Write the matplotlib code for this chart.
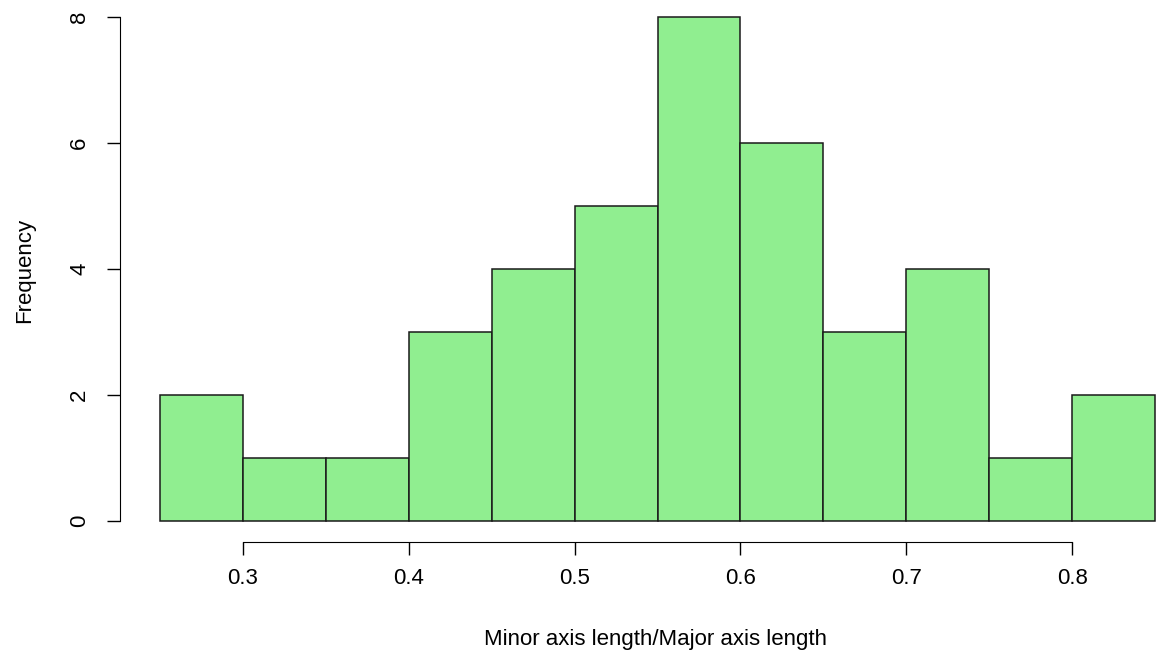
import matplotlib

matplotlib.use("Agg")
import matplotlib.pyplot as plt

BIN_EDGES = [0.25, 0.30, 0.35, 0.40, 0.45, 0.50, 0.55, 0.60, 0.65, 0.70, 0.75, 0.80, 0.85]
COUNTS = [2, 1, 1, 3, 4, 5, 8, 6, 3, 4, 1, 2]
X_TICKS = [0.3, 0.4, 0.5, 0.6, 0.7, 0.8]
Y_TICKS = [0, 2, 4, 6, 8]

plt.rcParams["font.family"] = ["Liberation Sans", "DejaVu Sans"]

W, H = 1160, 665
fig = plt.figure(figsize=(W / 100, H / 100), dpi=100)
ax = fig.add_axes([160 / W, (H - 521) / H, 995 / W, 504 / H])

_, _, patches = ax.hist(BIN_EDGES[:-1], bins=BIN_EDGES, weights=COUNTS,
                        color="#90ee90", edgecolor="#1a1a1a", linewidth=1.1)
for p in patches:
    p.set_clip_on(False)

ax.set_xlim(0.25, 0.85)
ax.set_ylim(0, 8)
ax.set_xticks(X_TICKS)
ax.set_xticklabels([f"{v:.1f}" for v in X_TICKS])
ax.set_yticks(Y_TICKS)
ax.set_yticklabels([str(v) for v in Y_TICKS])

# R-style detached axes
for sp in ("top", "right"):
    ax.spines[sp].set_visible(False)
ax.spines["left"].set_position(("outward", 40 * 0.72))
ax.spines["bottom"].set_position(("outward", 21 * 0.72))
ax.spines["left"].set_bounds(0, 8)
ax.spines["bottom"].set_bounds(0.3, 0.8)
ax.tick_params(axis="both", length=9.5, width=1, labelsize=16, colors="black")
ax.tick_params(axis="x", pad=9)
ax.tick_params(axis="y", pad=12, labelrotation=90)
for lbl in ax.get_yticklabels():
    lbl.set_verticalalignment("center")

fig.text(656 / W, 1 - 640 / H, "Minor axis length/Major axis length",
         ha="center", va="center", fontsize=16)
fig.text(25 / W, 1 - 270 / H, "Frequency", ha="center", va="center",
         rotation=90, fontsize=16)

fig.savefig("out.png")
